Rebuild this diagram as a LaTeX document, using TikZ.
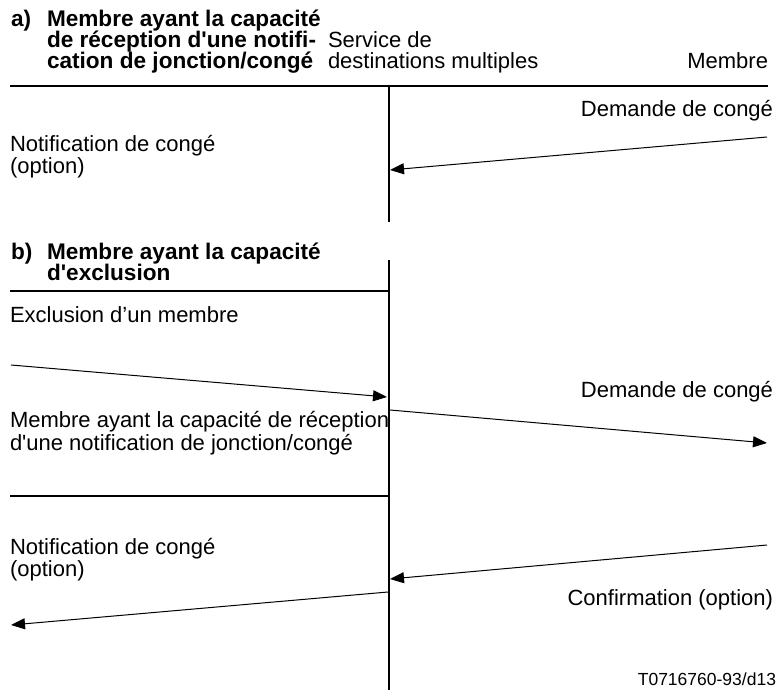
\documentclass[tikz,border=0pt]{standalone}
\usepackage{fontspec}
\setmainfont{Liberation Sans}
\usetikzlibrary{arrows.meta}
\begin{document}
\begin{tikzpicture}[x=1pt,y=-1pt,
  txt/.style={inner sep=0pt,outer sep=0pt,font=\fontsize{22}{22}\selectfont},
  hdr/.style={txt,font=\fontsize{22.6}{22.6}\selectfont\bfseries,text height=16pt,text depth=4pt},
  lw/.style={anchor=base west},
  le/.style={anchor=base east},
  rule/.style={line width=2pt},
  msg/.style={line width=1pt,-{Triangle[length=14pt,width=11pt]}}]
\useasboundingbox (0,0) rectangle (779,690);
% ---- section a header
\node[hdr,lw] (ha0) at (11,27) {a)};
\node[hdr,lw] (ha1) at (47,27) {Membre ayant la capacité};
\node[hdr,lw] (ha2) at (47,48) {de réception d\textquotesingle une notifi-};
\node[hdr,lw] (ha3) at (47,69) {cation de jonction/congé};
\node[txt,lw] (sv1) at (328,48) {Service de};
\node[txt,lw] (sv2) at (328,69) {destinations multiples};
\node[txt,le] (mb) at (768,69) {Membre};
% rules a
\coordinate (ra1) at (10,86);
\coordinate (ra2) at (768,86);
\draw[rule] (ra1) -- (ra2);
\coordinate (va1) at (388.5,86);
\coordinate (va2) at (388.5,222);
\draw[rule] (va1) -- (va2);
% message a
\node[txt,le] (la1) at (773,117) {Demande de congé};
\node[txt,lw] (la2) at (10,151) {Notification de congé};
\node[txt,lw] (la3) at (10,173) {(option)};
\coordinate (ma1) at (767,137);
\coordinate (ma2) at (390,170);
\draw[msg] (ma1) -- (ma2);
% ---- section b header
\node[hdr,lw] (hb0) at (11,259) {b)};
\node[hdr,lw] (hb1) at (47,259) {Membre ayant la capacité};
\node[hdr,lw] (hb2) at (47,280) {d\textquotesingle exclusion};
% rules b
\coordinate (vb1) at (388.5,260);
\coordinate (vb2) at (388.5,690);
\draw[rule] (vb1) -- (vb2);
\coordinate (rb1) at (10,291);
\coordinate (rb2) at (388.5,291);
\draw[rule] (rb1) -- (rb2);
\coordinate (rc1) at (10,495.5);
\coordinate (rc2) at (388.5,495.5);
\draw[rule] (rc1) -- (rc2);
% texts b
\node[txt,lw] (lb1) at (10,322) {Exclusion d’un membre};
\node[txt,le] (lb2) at (773,397) {Demande de congé};
\node[txt,lw] (lb3) at (10,427) {Membre ayant la capacité de réception};
\node[txt,lw] (lb4) at (10,450) {d\textquotesingle une notification de jonction/congé};
\node[txt,lw] (lb5) at (10,554) {Notification de congé};
\node[txt,lw] (lb6) at (10,576) {(option)};
\node[txt,le] (lb7) at (773,605) {Confirmation (option)};
\node[txt,le,font=\fontsize{17.5}{17.5}\selectfont] (ref) at (776,685) {T0716760-93/d13};
% messages b
\coordinate (m1a) at (11,365);
\coordinate (m1b) at (387,397);
\draw[msg] (m1a) -- (m1b);
\coordinate (m2a) at (390,410);
\coordinate (m2b) at (767,443);
\draw[msg] (m2a) -- (m2b);
\coordinate (m3a) at (767,545);
\coordinate (m3b) at (390,579);
\draw[msg] (m3a) -- (m3b);
\coordinate (m4a) at (388,592);
\coordinate (m4b) at (11,625);
\draw[msg] (m4a) -- (m4b);
\end{tikzpicture}
\end{document}
